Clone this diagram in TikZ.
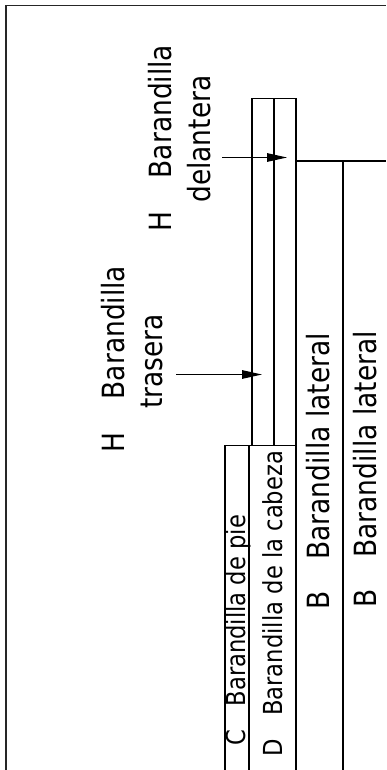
\documentclass[tikz,border=0pt]{standalone}
\usepackage{fontspec}
\setmainfont[FakeStretch=0.865]{DejaVu Sans}
\usetikzlibrary{arrows.meta}
\tikzset{
  every picture/.style={x=1pt,y=-1pt},
  ln/.style={line width=1.25pt,draw=black},
  frameln/.style={line width=1.5pt,draw=black!85},
  arr/.style={line width=1.2pt,draw=black,-{Triangle[length=20pt,width=8.5pt]}},
  bigt/.style={rotate=90,anchor=base west,inner sep=0pt,font=\fontsize{30.6}{30.6}\selectfont},
  midt/.style={rotate=90,anchor=base west,inner sep=0pt,font=\fontsize{30.6}{30.6}\selectfont},
  smallt/.style={rotate=90,anchor=base west,inner sep=0pt,font=\fontsize{26.2}{26.2}\selectfont}
}
\begin{document}
\begin{tikzpicture}
\useasboundingbox (0,0) rectangle (386,770);
\fill[white] (0,0) rectangle (386,770);
% outer frame
\draw[frameln] (6,770) -- (6,5.5) -- (386,5.5);
% rails
\draw[ln] (252,445.7) -- (252,98.5) -- (296,98.5) -- (296,770);
\draw[ln] (274,98.5) -- (274,445.7);
\draw[ln] (296,161) -- (386,161);
\draw[ln] (343,161) -- (343,770);
\draw[ln] (225,770) -- (225,445.7) -- (296,445.7);
\draw[ln] (249,445.7) -- (249,770);
% arrows
\coordinate (a1s) at (222,157.5);
\coordinate (a1e) at (287,157.5);
\coordinate (a2s) at (176,374.5);
\coordinate (a2e) at (262,374.5);
\draw[arr] (a1s) -- (a1e);
\draw[arr] (a2s) -- (a2e);
% labels
\node[bigt] (h1) at (171,232) {H\hspace{1.1em}Barandilla};
\node[bigt] (h1b) at (210,203) {delantera};
\node[bigt] (h2) at (124,453) {H\hspace{1.1em}Barandilla};
\node[bigt] (h2b) at (162,409) {trasera};
\node[smallt] (c) at (245,746) {C\hspace{0.9em}Barandilla de pie};
\node[smallt] (d) at (282,757) {D\hspace{0.9em}Barandilla de la cabeza};
\node[midt] (b1) at (329,610) {B\hspace{1.05em}Barandilla lateral};
\node[midt] (b2) at (376,608) {B\hspace{1.05em}Barandilla lateral};
\end{tikzpicture}
\end{document}
